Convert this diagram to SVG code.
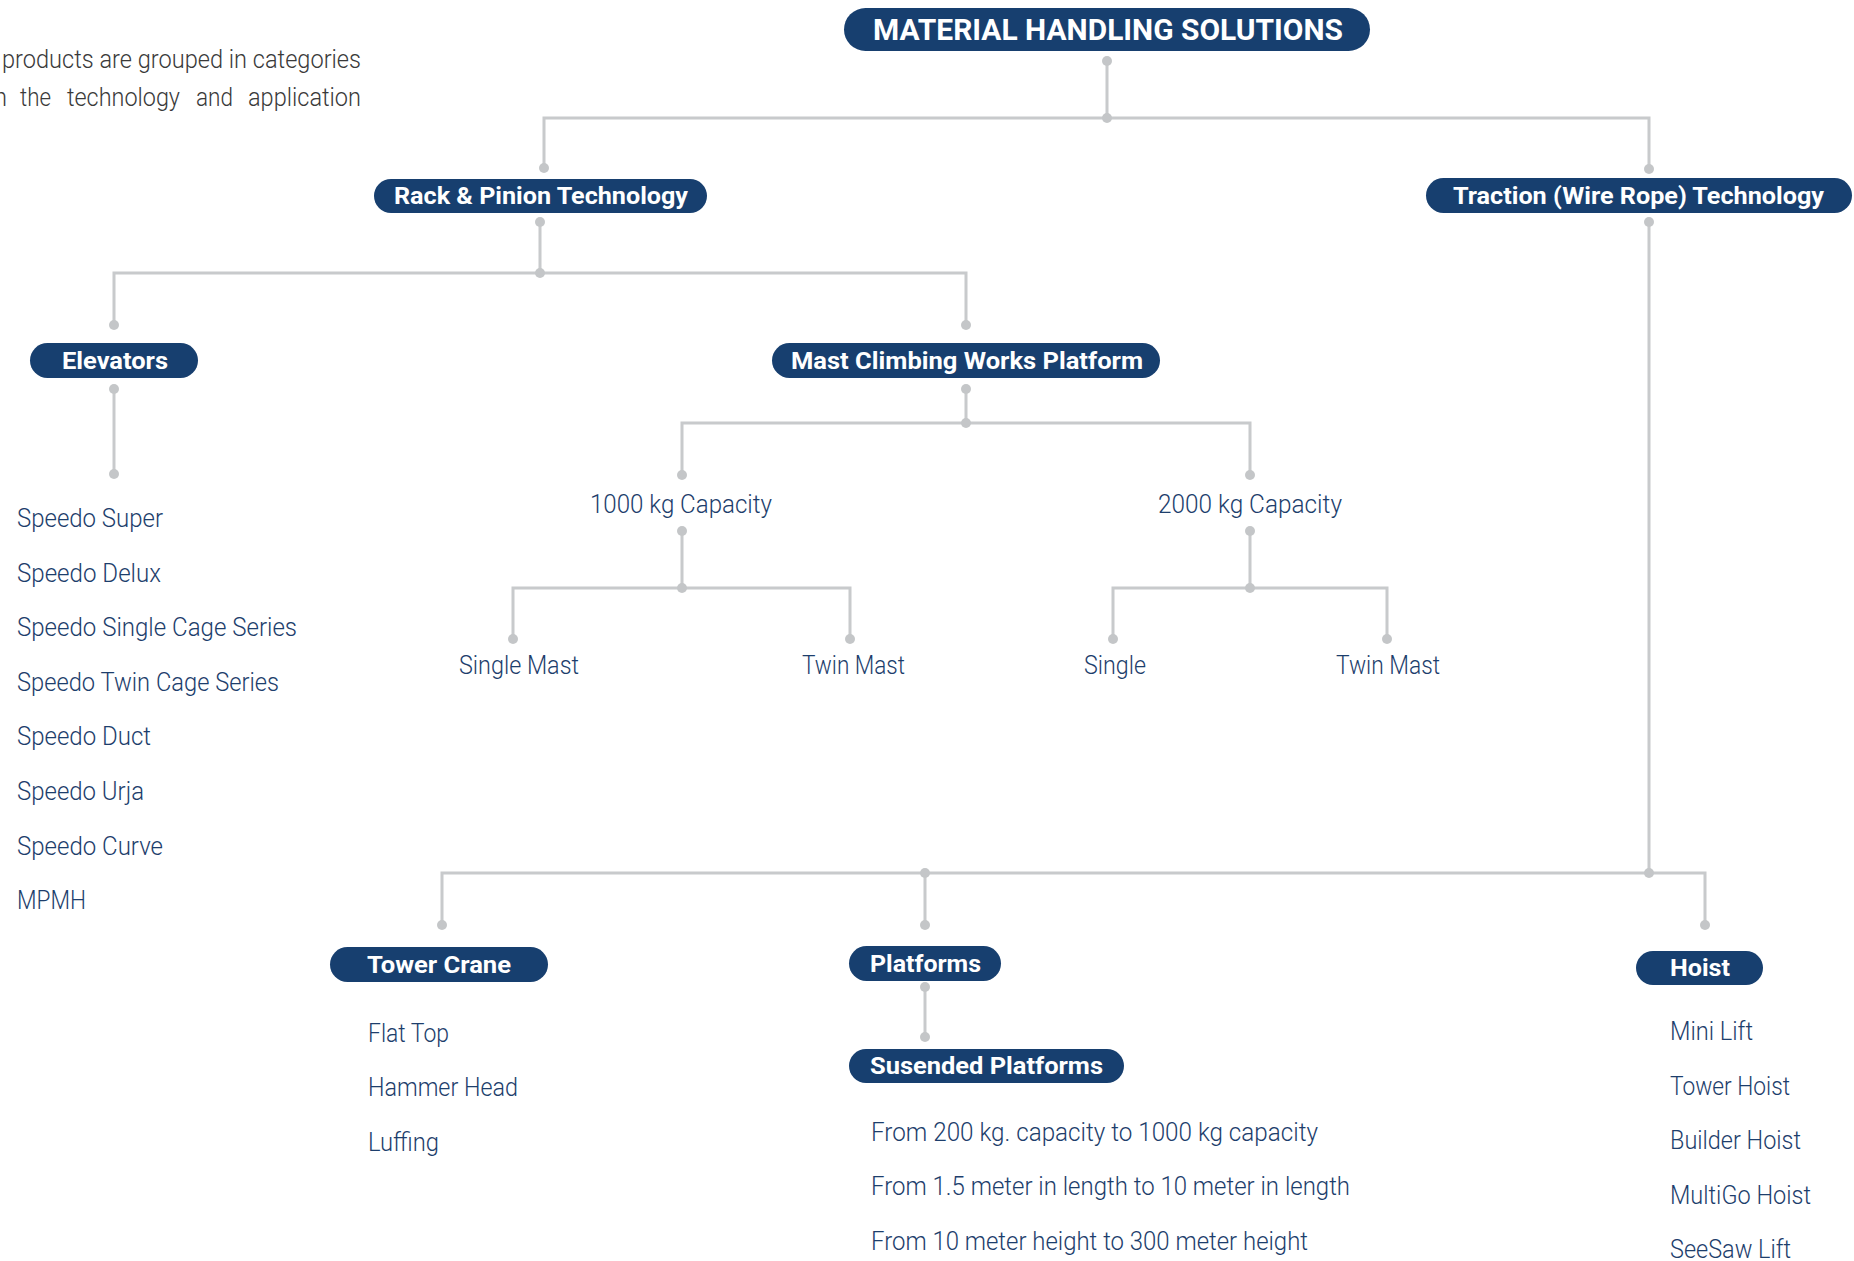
<svg xmlns="http://www.w3.org/2000/svg" width="1854" height="1261" viewBox="0 0 1854 1261">
<style>
.pill{fill:#173f6f}
.pt{fill:#ffffff;font-family:Roboto,"Liberation Sans",sans-serif;font-weight:700;font-size:24px}
.lt{fill:#1d3e6c;font-family:Roboto,"Liberation Sans",sans-serif;font-weight:300;font-size:25px}
.intro{fill:#3a3a3a;font-family:Roboto,"Liberation Sans",sans-serif;font-weight:300;font-size:25px}
.ln{stroke:#c8cacc;stroke-width:3;fill:none}
.dot{fill:#c4c6c8}
</style>
<rect width="1854" height="1261" fill="#ffffff"/>

<g id="intro">
<text class="intro" x="2" y="68" textLength="359" lengthAdjust="spacingAndGlyphs">products are grouped in categories</text>
<text class="intro" y="106"><tspan x="-6" textLength="13" lengthAdjust="spacingAndGlyphs">n</tspan><tspan x="20" textLength="31" lengthAdjust="spacingAndGlyphs">the</tspan><tspan x="67" textLength="113" lengthAdjust="spacingAndGlyphs">technology</tspan><tspan x="196" textLength="37" lengthAdjust="spacingAndGlyphs">and</tspan><tspan x="248" textLength="113" lengthAdjust="spacingAndGlyphs">application</tspan></text>
</g>

<g id="connectors">
<path class="ln" d="M1107 61V118M544 168V118H1649V169"/>
<path class="ln" d="M540 222V273M114 325V273H966V325"/>
<path class="ln" d="M114 389V474"/>
<path class="ln" d="M966 389V423M682 475V423H1250V475"/>
<path class="ln" d="M682 531V588M513 639V588H850V639"/>
<path class="ln" d="M1250 531V588M1113 639V588H1387V639"/>
<path class="ln" d="M1649 222V873M442 925V873H1705V925M925 873V925"/>
<path class="ln" d="M925 987V1037"/>
<g>
<circle class="dot" cx="1107" cy="61" r="5"/><circle class="dot" cx="1107" cy="118" r="5"/>
<circle class="dot" cx="544" cy="168" r="5"/><circle class="dot" cx="1649" cy="169" r="5"/>
<circle class="dot" cx="540" cy="222" r="5"/><circle class="dot" cx="540" cy="273" r="5"/>
<circle class="dot" cx="114" cy="325" r="5"/><circle class="dot" cx="966" cy="325" r="5"/>
<circle class="dot" cx="114" cy="389" r="5"/><circle class="dot" cx="114" cy="474" r="5"/>
<circle class="dot" cx="966" cy="389" r="5"/><circle class="dot" cx="966" cy="423" r="5"/>
<circle class="dot" cx="682" cy="475" r="5"/><circle class="dot" cx="1250" cy="475" r="5"/>
<circle class="dot" cx="682" cy="531" r="5"/><circle class="dot" cx="682" cy="588" r="5"/>
<circle class="dot" cx="513" cy="639" r="5"/><circle class="dot" cx="850" cy="639" r="5"/>
<circle class="dot" cx="1250" cy="531" r="5"/><circle class="dot" cx="1250" cy="588" r="5"/>
<circle class="dot" cx="1113" cy="639" r="5"/><circle class="dot" cx="1387" cy="639" r="5"/>
<circle class="dot" cx="1649" cy="222" r="5"/><circle class="dot" cx="1649" cy="873" r="5"/>
<circle class="dot" cx="925" cy="873" r="5"/>
<circle class="dot" cx="442" cy="925" r="5"/><circle class="dot" cx="925" cy="925" r="5"/><circle class="dot" cx="1705" cy="925" r="5"/>
<circle class="dot" cx="925" cy="987" r="5"/><circle class="dot" cx="925" cy="1037" r="5"/>
</g>
</g>

<g id="n-root">
<rect class="pill" x="844" y="8" width="526" height="43" rx="21.5"/>
<text class="pt" x="873" y="40" style="font-size:30px" textLength="470" lengthAdjust="spacingAndGlyphs">MATERIAL HANDLING SOLUTIONS</text>
</g>
<g id="n-rack">
<rect class="pill" x="374" y="179" width="333" height="34" rx="17"/>
<text class="pt" x="394" y="204" textLength="294" lengthAdjust="spacingAndGlyphs">Rack &amp; Pinion Technology</text>
</g>
<g id="n-traction">
<rect class="pill" x="1426" y="178" width="426" height="35" rx="17.5"/>
<text class="pt" x="1453" y="204" textLength="371" lengthAdjust="spacingAndGlyphs">Traction (Wire Rope) Technology</text>
</g>
<g id="n-elevators">
<rect class="pill" x="30" y="343" width="168" height="35" rx="17.5"/>
<text class="pt" x="62" y="369" textLength="106" lengthAdjust="spacingAndGlyphs">Elevators</text>
</g>
<g id="n-mast">
<rect class="pill" x="772" y="343" width="388" height="35" rx="17.5"/>
<text class="pt" x="791" y="369" textLength="352" lengthAdjust="spacingAndGlyphs">Mast Climbing Works Platform</text>
</g>
<g id="n-elevator-list">
<text class="lt" x="17" y="527" textLength="146" lengthAdjust="spacingAndGlyphs">Speedo Super</text>
<text class="lt" x="17" y="582" textLength="144" lengthAdjust="spacingAndGlyphs">Speedo Delux</text>
<text class="lt" x="17" y="636" textLength="280" lengthAdjust="spacingAndGlyphs">Speedo Single Cage Series</text>
<text class="lt" x="17" y="691" textLength="262" lengthAdjust="spacingAndGlyphs">Speedo Twin Cage Series</text>
<text class="lt" x="17" y="745" textLength="134" lengthAdjust="spacingAndGlyphs">Speedo Duct</text>
<text class="lt" x="17" y="800" textLength="127" lengthAdjust="spacingAndGlyphs">Speedo Urja</text>
<text class="lt" x="17" y="855" textLength="146" lengthAdjust="spacingAndGlyphs">Speedo Curve</text>
<text class="lt" x="17" y="909" textLength="69" lengthAdjust="spacingAndGlyphs">MPMH</text>
</g>
<g id="n-1000">
<text class="lt" x="590" y="513" textLength="182" lengthAdjust="spacingAndGlyphs">1000 kg Capacity</text>
</g>
<g id="n-2000">
<text class="lt" x="1158" y="513" textLength="184" lengthAdjust="spacingAndGlyphs">2000 kg Capacity</text>
</g>
<g id="n-1000-single">
<text class="lt" x="459" y="674" textLength="120" lengthAdjust="spacingAndGlyphs">Single Mast</text>
</g>
<g id="n-1000-twin">
<text class="lt" x="802" y="674" textLength="103" lengthAdjust="spacingAndGlyphs">Twin Mast</text>
</g>
<g id="n-2000-single">
<text class="lt" x="1084" y="674" textLength="62" lengthAdjust="spacingAndGlyphs">Single</text>
</g>
<g id="n-2000-twin">
<text class="lt" x="1336" y="674" textLength="104" lengthAdjust="spacingAndGlyphs">Twin Mast</text>
</g>
<g id="n-tower-crane">
<rect class="pill" x="330" y="947" width="218" height="35" rx="17.5"/>
<text class="pt" x="367" y="973" textLength="144" lengthAdjust="spacingAndGlyphs">Tower Crane</text>
<text class="lt" x="368" y="1042" textLength="81" lengthAdjust="spacingAndGlyphs">Flat Top</text>
<text class="lt" x="368" y="1096" textLength="150" lengthAdjust="spacingAndGlyphs">Hammer Head</text>
<text class="lt" x="368" y="1151" textLength="71" lengthAdjust="spacingAndGlyphs">Luffing</text>
</g>
<g id="n-platforms">
<rect class="pill" x="849" y="946" width="152" height="35" rx="17.5"/>
<text class="pt" x="870" y="972" textLength="111" lengthAdjust="spacingAndGlyphs">Platforms</text>
</g>
<g id="n-suspended">
<rect class="pill" x="849" y="1049" width="275" height="34" rx="17"/>
<text class="pt" x="870" y="1074" textLength="233" lengthAdjust="spacingAndGlyphs">Susended Platforms</text>
<text class="lt" x="871" y="1141" textLength="447" lengthAdjust="spacingAndGlyphs">From 200 kg. capacity to 1000 kg capacity</text>
<text class="lt" x="871" y="1195" textLength="479" lengthAdjust="spacingAndGlyphs">From 1.5 meter in length to 10 meter in length</text>
<text class="lt" x="871" y="1250" textLength="437" lengthAdjust="spacingAndGlyphs">From 10 meter height to 300 meter height</text>
</g>
<g id="n-hoist">
<rect class="pill" x="1636" y="951" width="127" height="34" rx="17"/>
<text class="pt" x="1670" y="976" textLength="60" lengthAdjust="spacingAndGlyphs">Hoist</text>
<text class="lt" x="1670" y="1040" textLength="83" lengthAdjust="spacingAndGlyphs">Mini Lift</text>
<text class="lt" x="1670" y="1095" textLength="120" lengthAdjust="spacingAndGlyphs">Tower Hoist</text>
<text class="lt" x="1670" y="1149" textLength="131" lengthAdjust="spacingAndGlyphs">Builder Hoist</text>
<text class="lt" x="1670" y="1204" textLength="141" lengthAdjust="spacingAndGlyphs">MultiGo Hoist</text>
<text class="lt" x="1670" y="1258" textLength="121" lengthAdjust="spacingAndGlyphs">SeeSaw Lift</text>
</g>
</svg>
